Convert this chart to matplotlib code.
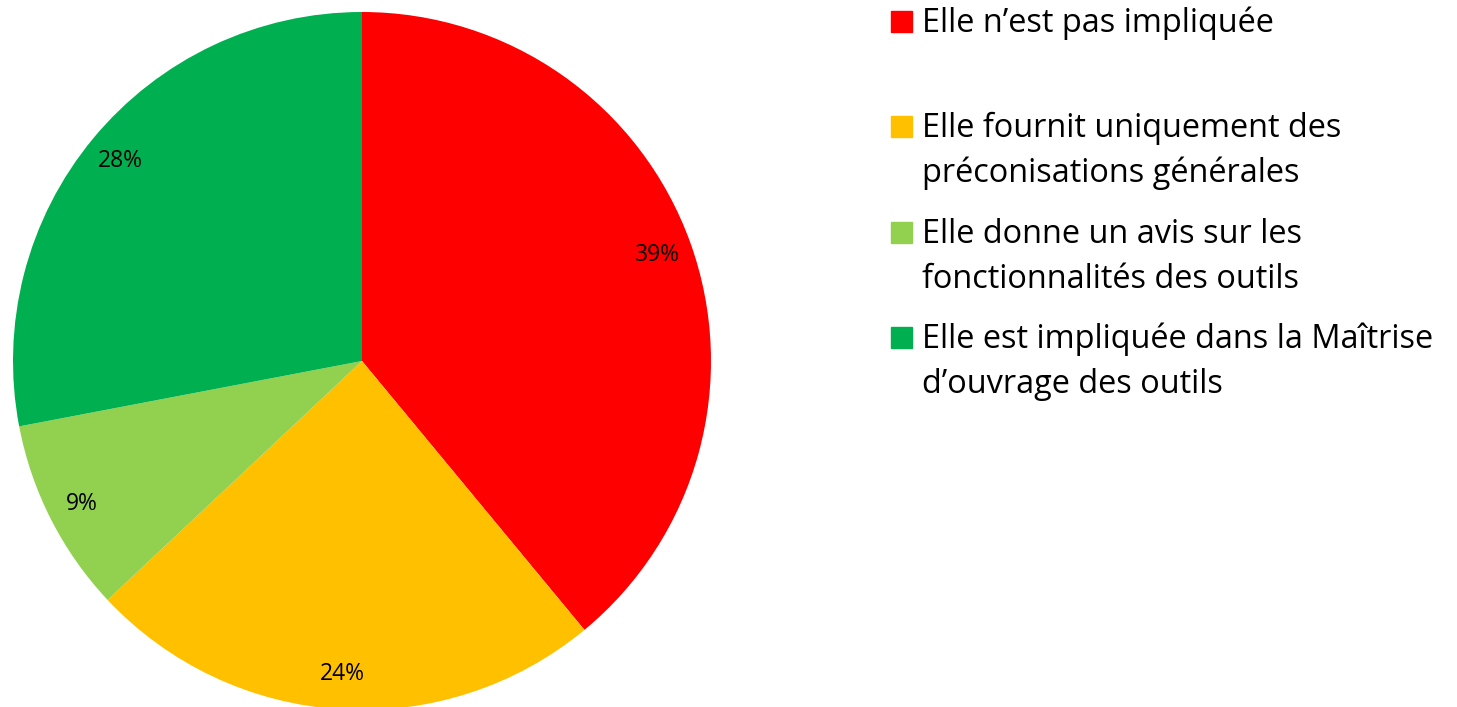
import matplotlib.pyplot as plt
from matplotlib.patches import Rectangle

labels = ['Elle n’est pas impliquée',
          'Elle fournit uniquement des\npréconisations générales',
          'Elle donne un avis sur les\nfonctionnalités des outils',
          'Elle est impliquée dans la Maîtrise\nd’ouvrage des outils']
shares = [39, 24, 9, 28]
colors = ['#FF0000', '#FFC000', '#92D050', '#00B050']

W, H = 1457, 707
plt.rcParams['font.family'] = ['Open Sans', 'DejaVu Sans']

fig = plt.figure(figsize=(W / 100, H / 100), dpi=100)

# pie: centre (362, 361) px from top-left, radius 349 px
cx, cy, r = 362, 361, 349
ax = fig.add_axes([(cx - r) / W, (H - cy - r) / H, 2 * r / W, 2 * r / H])
ax.pie(shares, colors=colors, startangle=90, counterclock=False,
       autopct='%1.0f%%', pctdistance=0.9,
       textprops={'fontsize': 16.5, 'color': 'black'})
ax.set_xlim(-1, 1)
ax.set_ylim(-1, 1)
ax.set_aspect('equal')
ax.axis('off')

# legend drawn by hand to keep the Excel-like layout
base0, step, line = 32, 105.4, 45
for i, (lb, c) in enumerate(zip(labels, colors)):
    base = base0 + i * step
    fig.patches.append(Rectangle((891 / W, 1 - base / H), 21 / W, 21 / H,
                                 transform=fig.transFigure, color=c))
    for j, txt in enumerate(lb.split('\n')):
        fig.text(922 / W, 1 - (base + j * line) / H, txt, fontsize=23.4,
                 va='baseline', ha='left')

fig.savefig('out.png', dpi=100)
